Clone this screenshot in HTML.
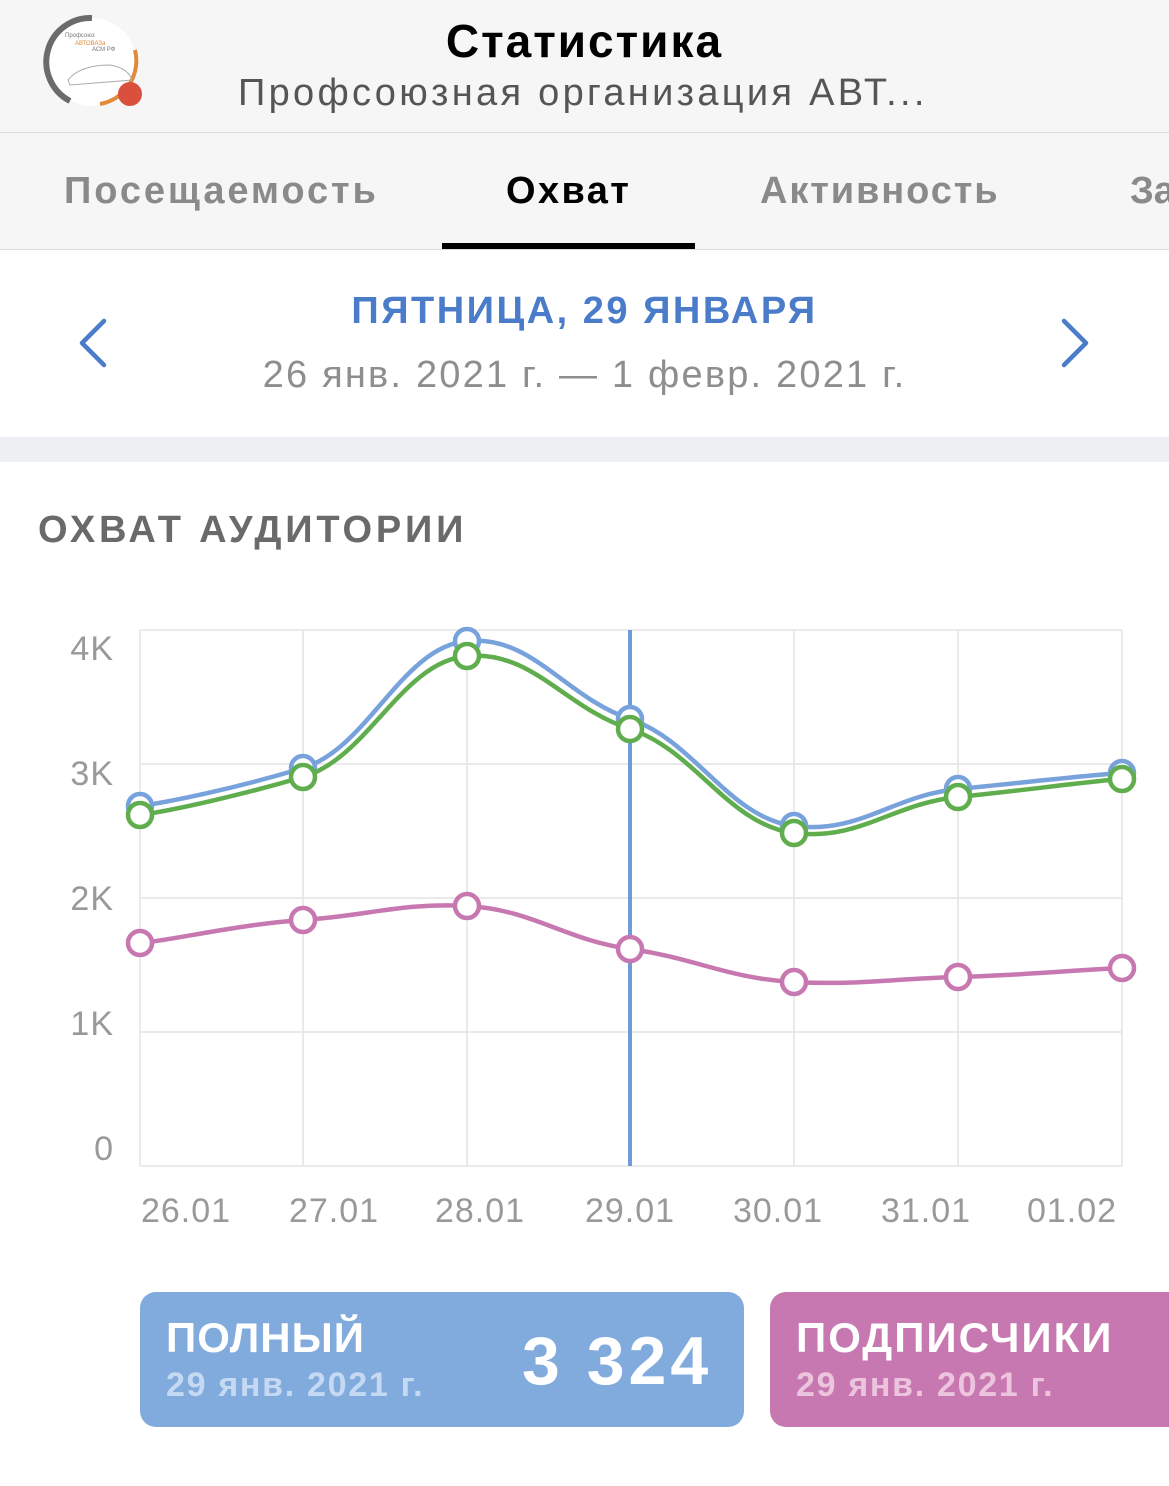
<!DOCTYPE html>
<html><head><meta charset="utf-8"><style>
body{margin:0;width:1169px;height:1486px;overflow:hidden;background:#fff;font-family:"Liberation Sans","DejaVu Sans",sans-serif;position:relative}
.a{position:absolute;white-space:nowrap}
</style></head><body>
<div class="a" style="left:0;top:0;width:1169px;height:132px;background:#f6f6f6;border-bottom:1px solid #dcdcdc"></div>
<div class="a" style="left:0;top:133px;width:1169px;height:116px;background:#f6f6f6;border-bottom:1px solid #dcdcdc"></div>
<svg class="a" style="left:40px;top:10px" width="120" height="110">
<circle cx="52" cy="52" r="44" fill="#fff"/>
<path d="M52 8 A44 44 0 0 0 30 91" stroke="#6b6b6b" stroke-width="6" fill="none"/>
<path d="M60 94 A44 44 0 0 0 95 40" stroke="#e08a3a" stroke-width="4" fill="none"/>
<text x="25" y="27" font-size="6" fill="#777">Профсоюз</text>
<text x="35" y="35" font-size="6" fill="#d88a3a">АВТОВАЗа</text>
<text x="52" y="41" font-size="6" fill="#777">АСМ РФ</text>
<path d="M28 70 Q40 55 70 55 Q88 58 92 70 L30 75Z" fill="none" stroke="#aaa"/>
<circle cx="90" cy="84" r="12" fill="#d9503c"/>
</svg>
<div class="a" style="left:0;width:1169px;text-align:center;top:14px;font-size:46px;font-weight:bold;color:#000;letter-spacing:2px">Статистика</div>
<div class="a" style="left:238px;top:72px;font-size:38px;color:#555;letter-spacing:3.3px">Профсоюзная организация АВТ...</div>
<div class="a" style="left:64px;top:170px;font-size:38px;font-weight:bold;color:#8a8a8a;letter-spacing:2.9px">Посещаемость</div>
<div class="a" style="left:506px;top:170px;font-size:38px;font-weight:bold;color:#000;letter-spacing:2.4px">Охват</div>
<div class="a" style="left:760px;top:170px;font-size:38px;font-weight:bold;color:#8a8a8a;letter-spacing:1.9px">Активность</div>
<div class="a" style="left:1130px;top:170px;font-size:38px;font-weight:bold;color:#8a8a8a">За</div>
<div class="a" style="left:442px;top:243px;width:253px;height:6px;background:#000"></div>
<div class="a" style="left:0;width:1169px;text-align:center;top:290px;font-size:38px;font-weight:bold;color:#4a7cc9;letter-spacing:2.5px">ПЯТНИЦА, 29 ЯНВАРЯ</div>
<div class="a" style="left:0;width:1169px;text-align:center;top:354px;font-size:38px;color:#8e8e8e;letter-spacing:2.2px">26 янв. 2021 г. — 1 февр. 2021 г.</div>
<svg class="a" style="left:70px;top:315px" width="1040" height="60">
<path d="M34 6 L12 28 L34 50" stroke="#4a7cc9" stroke-width="4.5" fill="none" stroke-linecap="round" stroke-linejoin="round"/>
<path d="M994 6 L1016 28 L994 50" stroke="#4a7cc9" stroke-width="4.5" fill="none" stroke-linecap="round" stroke-linejoin="round"/>
</svg>
<div class="a" style="left:0;top:437px;width:1169px;height:25px;background:#eeeff2"></div>
<div class="a" style="left:38px;top:509px;font-size:38px;font-weight:bold;color:#6a6a6a;letter-spacing:3.8px">ОХВАТ АУДИТОРИИ</div>
<svg class="a" id="ch" style="left:0;top:0" width="1169" height="1486"></svg>
<div class="a" style="left:140px;top:1292px;width:604px;height:135px;background:#82abdd;border-radius:16px"></div>
<div class="a" style="left:166px;top:1314px;font-size:42px;font-weight:bold;color:#fff;letter-spacing:1px">ПОЛНЫЙ</div>
<div class="a" style="left:166px;top:1366px;font-size:34px;font-weight:bold;color:#c5daf2;letter-spacing:1.7px">29 янв. 2021 г.</div>
<div class="a" style="left:522px;top:1322px;font-size:68px;font-weight:bold;color:#fff;letter-spacing:4px">3 324</div>
<div class="a" style="left:770px;top:1292px;width:420px;height:135px;background:#c878b0;border-radius:16px"></div>
<div class="a" style="left:796px;top:1314px;font-size:42px;font-weight:bold;color:#fff;letter-spacing:2px">ПОДПИСЧИКИ</div>
<div class="a" style="left:796px;top:1366px;font-size:34px;font-weight:bold;color:#ecc4de;letter-spacing:1.7px">29 янв. 2021 г.</div>
<script>
var s='';var X=[140,303,467,630,794,958,1122];
[630,764,898,1032,1166].forEach(function(y){s+='<line x1="140" x2="1122" y1="'+y+'" y2="'+y+'" stroke="#e4e4e4" stroke-width="1.5"/>'});
X.forEach(function(x){s+='<line x1="'+x+'" x2="'+x+'" y1="630" y2="1166" stroke="#e4e4e4" stroke-width="1.5"/>'});
[['4K',648],['3K',773],['2K',898],['1K',1023],['0',1148]].forEach(function(l){s+='<text x="114" y="'+(l[1]+12)+'" text-anchor="end" font-size="34" fill="#999" letter-spacing="1">'+l[0]+'</text>'});
var xl=[186,334,480,630,778,926,1072],tl=['26.01','27.01','28.01','29.01','30.01','31.01','01.02'];
xl.forEach(function(x,i){s+='<text x="'+x+'" y="1222" text-anchor="middle" font-size="34" fill="#999" letter-spacing="1">'+tl[i]+'</text>'});
s+='<line x1="630" x2="630" y1="630" y2="1166" stroke="#6f9bd8" stroke-width="4"/>';
function path(Y){var p='M'+X[0]+' '+Y[0];for(var i=0;i<6;i++){var x0=X[i-1]||X[i],y0=i?Y[i-1]:Y[i],x3=X[i+2]||X[i+1],y3=i<5?Y[i+2]:Y[i+1];var t=0.2;p+=' C'+(X[i]+(X[i+1]-x0)*t)+' '+(Y[i]+(Y[i+1]-y0)*t*0.6)+' '+(X[i+1]-(x3-X[i])*t)+' '+(Y[i+1]-(y3-Y[i])*t*0.6)+' '+X[i+1]+' '+Y[i+1];}return p}
function ser(Y,c){s+='<path d="'+path(Y)+'" stroke="'+c+'" stroke-width="4.5" fill="none"/>';Y.forEach(function(y,i){s+='<circle cx="'+X[i]+'" cy="'+y+'" r="12" fill="#fff" stroke="'+c+'" stroke-width="4.5"/>'})}
ser([806,768,641,719,826,789,773],'#78a2dc');
ser([815,777,656,729,833,797,779],'#5fad4c');
ser([943,920,906,949,982,977,968],'#c878b0');
document.getElementById('ch').innerHTML=s;
</script>
</body></html>
